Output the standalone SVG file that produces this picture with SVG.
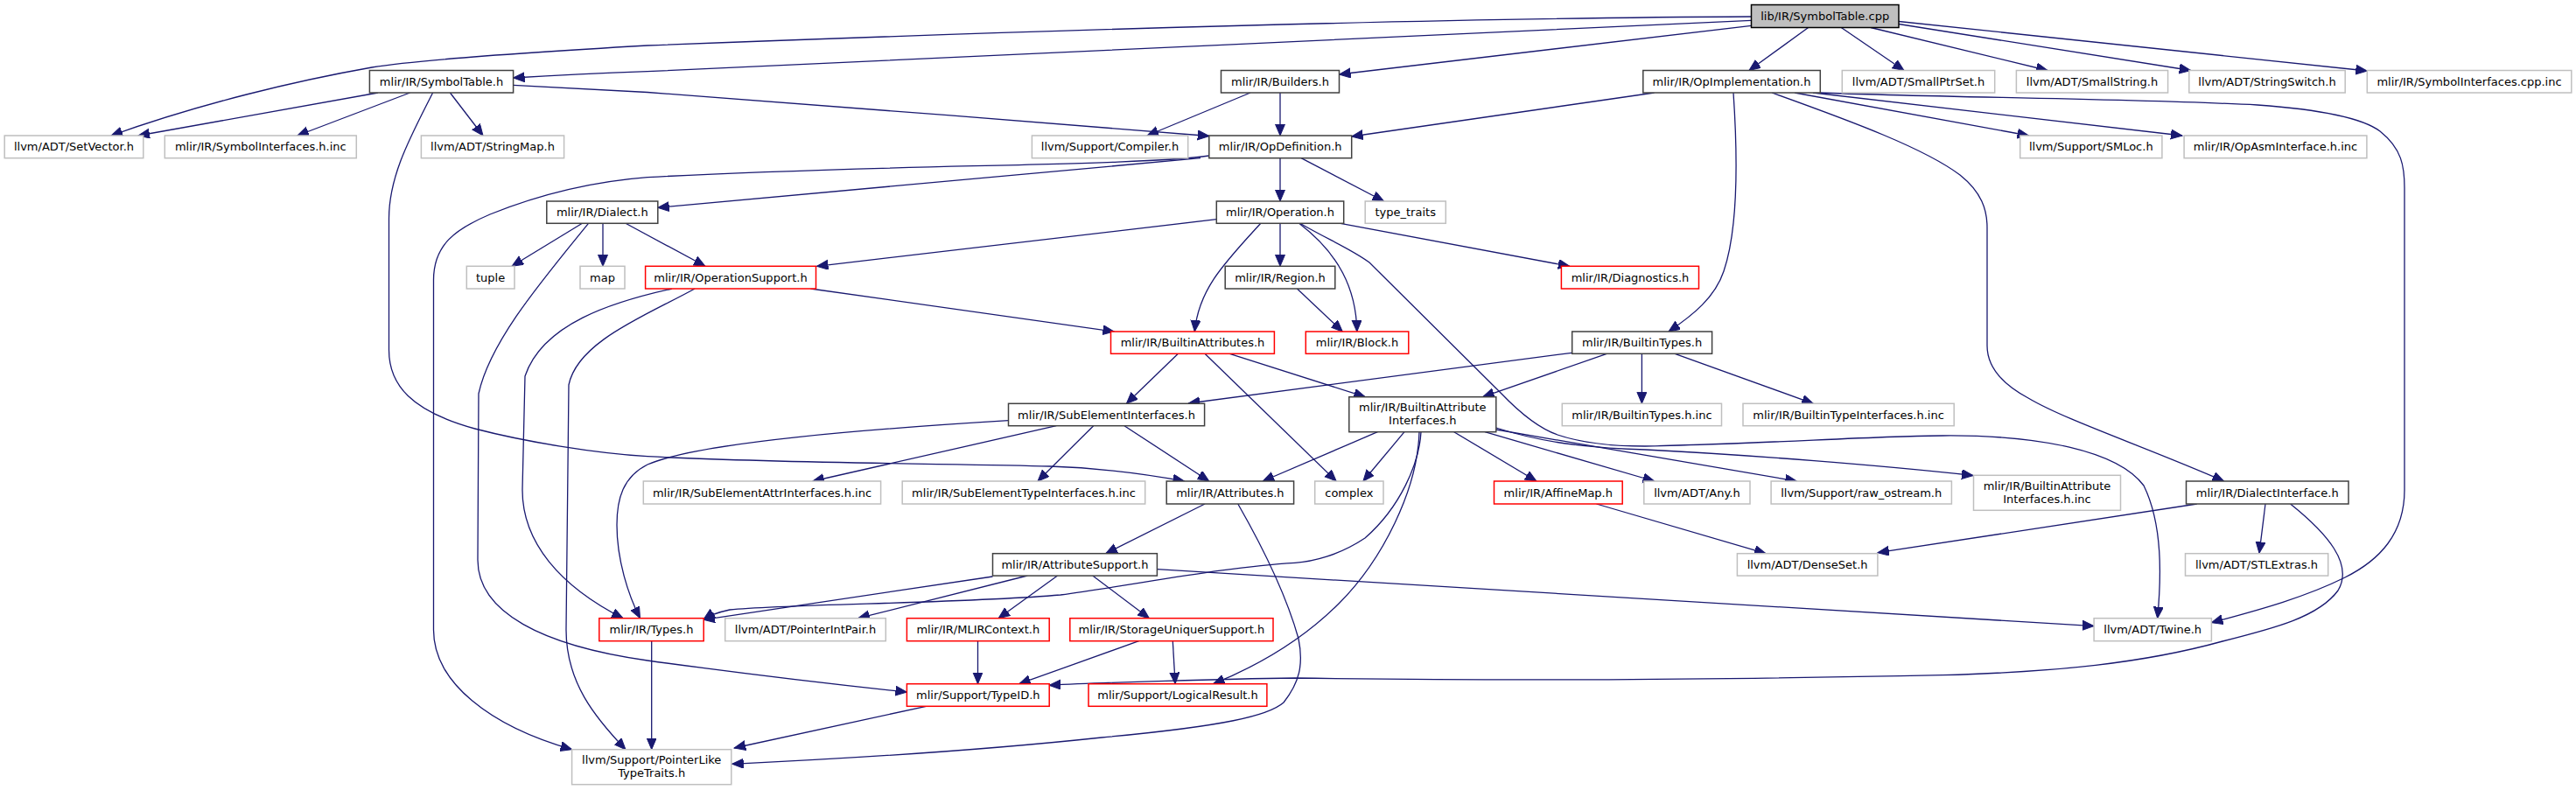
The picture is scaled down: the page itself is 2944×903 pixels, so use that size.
<svg xmlns="http://www.w3.org/2000/svg" width="2944" height="903" viewBox="0 0 2944 903">
<style>
rect{fill:#fff;stroke:#404040;stroke-width:1.5}
.g rect{stroke:#bfbfbf}
.r rect{stroke:#ff0000}
.root rect{fill:#bfbfbf;stroke:#000}
text{font-family:"DejaVu Sans","Liberation Sans",sans-serif;font-size:13px;text-anchor:middle;fill:#000}
#edges path{fill:none;stroke:#191970;stroke-width:1.3;marker-end:url(#a)}
</style>
<defs>
<marker id="a" markerUnits="userSpaceOnUse" markerWidth="14" markerHeight="12" refX="13" refY="5.5" orient="auto"><path d="M0,0L13,5.5L0,11z" fill="#191970" stroke="#191970" stroke-width="1"/></marker>
</defs>
<rect x="0" y="0" width="2944" height="903" style="fill:#fff;stroke:none"/>
<g id="edges">
<path d="M2001.5,19 C1600,21 1100,38 740,52 C600,60 480,68 425,77 C340,92 230,118 127,155"/>
<path d="M2001.5,23.3 C1700,37 1000,70 740,81.7 C680,84 630,86.5 586.6,89"/>
<path d="M2001.5,29.3 L1530.5,85"/>
<path d="M2066.6,31.5 L1999,80.5"/>
<path d="M2104.3,31.5 L2176,80.5"/>
<path d="M2138,31.5 L2340,80.5"/>
<path d="M2170,27.5 L2503.7,80.5"/>
<path d="M2170,24.5 L2705.3,81"/>
<path d="M432,106 L158,155"/>
<path d="M468.6,106 L339.8,155"/>
<path d="M514.4,106 L552,155"/>
<path d="M586.6,97.3 L740,105.5 C900,118 1200,140 1381.8,155.5"/>
<path d="M494.6,106 C470,155 444.5,200 444.5,250 L444.5,400 C444.5,440 470,470 542.7,490 C600,505 680,518 740,521.7 C900,530 1100,530 1200,533 C1260,535 1310,542 1353.5,550"/>
<path d="M1429,106 L1311,155"/>
<path d="M1463,106 L1463,155"/>
<path d="M1890.6,106 L1544.7,156"/>
<path d="M1981,106 C1986,180 1987,260 1970,310 C1960,340 1935,360 1907,379"/>
<path d="M2025,106 C2120,140 2200,170 2240,200 C2265,220 2271,240 2271,260 L2271,395 C2271,420 2290,440 2318,455 C2360,480 2450,510 2541.6,550"/>
<path d="M2051,106 L2318.6,155"/>
<path d="M2072,106 L2494,155"/>
<path d="M2080.3,106 C2200,111 2450,113 2580,120 C2650,125 2700,135 2720,150 C2745,170 2748,190 2748,215 L2748,560 C2748,610 2720,640 2680,660 C2630,685 2570,700 2527.4,711.7"/>
<path d="M1372,180.7 L751.8,237.3"/>
<path d="M1381.8,178 C1300,190 1000,188 740,202.7 C670,208 610,225 560,245 C520,262 495.5,280 495.5,320 L495.5,720 C495.5,780 560,830 653.6,856.7"/>
<path d="M1463,180.7 L1463,230"/>
<path d="M1487,180.7 L1581.5,230"/>
<path d="M665.4,255.3 L585,304.3"/>
<path d="M689,255.3 L689,304.3"/>
<path d="M715,255.3 L806,304.3"/>
<path d="M672.5,255.3 C620,320 560,390 547,450 L546,640 C546,700 620,738 740,755 C850,770 950,782 1036.4,791"/>
<path d="M926.4,330 L1273.3,379"/>
<path d="M768,330 C700,345 620,370 600,430 L597,560 C597,620 640,670 712,706.7"/>
<path d="M794,330 C740,360 660,390 650,440 L647,720 C647,780 680,820 715,856.7"/>
<path d="M1390.3,250.7 L933.5,304.3"/>
<path d="M1440.8,255.3 C1400,300 1370,330 1365.3,379"/>
<path d="M1463,255.3 L1463,304.3"/>
<path d="M1484.7,255.3 C1530,290 1550,330 1550.8,379"/>
<path d="M1532,255.3 L1793.8,304.3"/>
<path d="M1487,256 C1520,275 1545,285 1565,300 L1716,450 C1740,475 1760,490 1780,497 C1810,507 1850,510 1880,510 C2000,508 2150,498 2220,498 C2330,497 2420,515 2450,555 C2472,600 2470,660 2465.7,706.7"/>
<path d="M1482.4,330 L1534.3,379"/>
<path d="M1346.4,404.3 L1287.4,461.3"/>
<path d="M1377,404.3 L1527.2,550"/>
<path d="M1405.4,404.3 L1560.2,453.7"/>
<path d="M1796.2,403.3 L1358.2,461"/>
<path d="M1836.3,404.3 L1694.7,453.7"/>
<path d="M1876.4,404.3 L1876.4,461.3"/>
<path d="M1914.2,404.3 L2072.3,461.3"/>
<path d="M1207.2,486.7 L928.8,550"/>
<path d="M1249.7,486.7 L1186,550"/>
<path d="M1285,486.7 L1381.8,550"/>
<path d="M1152.5,480.7 C1000,490 800,505 740,531 C712,545 705,570 705,600 C705,640 718,680 731.5,706.7"/>
<path d="M1574.4,493.7 L1443.2,550"/>
<path d="M1605,493.7 L1557.9,550"/>
<path d="M1661.7,493.7 L1756,550"/>
<path d="M1697,493.7 L1890.6,550"/>
<path d="M1709.8,491 L2053.4,550"/>
<path d="M1709.8,489 C1760,505 1810,512 1881,514 C2000,520 2150,532 2255,543.5"/>
<path d="M1624,493.7 C1622,530 1600,580 1560,615 C1530,635 1500,642 1480,643.3 C1400,648 1300,668 1212,680 C1100,690 900,690 834,697 C820,700 810,704 804,708"/>
<path d="M1622,493.7 C1620,560 1580,640 1530,690 C1490,730 1440,760 1386.5,781.7"/>
<path d="M1377,576 L1263.8,632.7"/>
<path d="M1414.8,576 C1440,620 1470,680 1484,730 C1490,760 1485,780 1467,803 C1450,818 1400,830 1259,843 C1100,860 950,868 836.7,873.3"/>
<path d="M1824.5,576 L2018,632.7"/>
<path d="M1134.5,659 L804,708.3"/>
<path d="M1174.2,658 L980.7,706.7"/>
<path d="M1208.6,658 L1141.1,706.7"/>
<path d="M1248.7,658 L1313.4,706.7"/>
<path d="M1322.4,650.7 L2393.1,715.6"/>
<path d="M2510.8,576 L2145.9,631.7"/>
<path d="M2589,576 L2582,632.3"/>
<path d="M2617.6,576 C2660,610 2690,645 2672,675 C2650,705 2600,718 2540,733 C2450,758 2350,768 2220,771.7 C1900,778 1700,778 1480,775 C1400,776 1260,780 1199.2,783.3"/>
<path d="M744.7,732.7 L744.7,856.7"/>
<path d="M1117.5,732.7 L1117.5,781.7"/>
<path d="M1301.6,732.7 L1164.7,781.7"/>
<path d="M1340.3,732.7 L1343.1,781.7"/>
<path d="M1058.5,807.3 L839.1,855"/>
</g>
<g id="n_cpp" class="root"><rect x="2001.5" y="5.5" width="168.5" height="26"/><text x="2085.7" y="23">lib/IR/SymbolTable.cpp</text></g>
<g id="n_symtab"><rect x="422.4" y="80.5" width="164.2" height="25.5"/><text x="504.5" y="97.7">mlir/IR/SymbolTable.h</text></g>
<g id="n_builders"><rect x="1395.5" y="80.5" width="135" height="25.5"/><text x="1463" y="97.7">mlir/IR/Builders.h</text></g>
<g id="n_opimpl"><rect x="1877.8" y="80.5" width="202.5" height="25.5"/><text x="1979" y="97.7">mlir/IR/OpImplementation.h</text></g>
<g id="n_smallptrset" class="g"><rect x="2105.3" y="80.5" width="174.4" height="25.5"/><text x="2192.5" y="97.7">llvm/ADT/SmallPtrSet.h</text></g>
<g id="n_smallstring" class="g"><rect x="2304.4" y="80.5" width="173.2" height="25.5"/><text x="2391" y="97.7">llvm/ADT/SmallString.h</text></g>
<g id="n_stringswitch" class="g"><rect x="2501.8" y="80.5" width="178.4" height="25.5"/><text x="2591" y="97.7">llvm/ADT/StringSwitch.h</text></g>
<g id="n_symifcppinc" class="g"><rect x="2705.3" y="80.5" width="233.5" height="25.5"/><text x="2822" y="97.7">mlir/IR/SymbolInterfaces.cpp.inc</text></g>
<g id="n_setvector" class="g"><rect x="5.2" y="155" width="158.6" height="25.7"/><text x="84.5" y="172.3">llvm/ADT/SetVector.h</text></g>
<g id="n_symifhinc" class="g"><rect x="188.3" y="155" width="219" height="25.7"/><text x="297.8" y="172.3">mlir/IR/SymbolInterfaces.h.inc</text></g>
<g id="n_stringmap" class="g"><rect x="481.4" y="155" width="163.2" height="25.7"/><text x="563" y="172.3">llvm/ADT/StringMap.h</text></g>
<g id="n_compiler" class="g"><rect x="1179.4" y="155" width="178.3" height="25.7"/><text x="1268.5" y="172.3">llvm/Support/Compiler.h</text></g>
<g id="n_opdef"><rect x="1381.8" y="155" width="162.9" height="25.7"/><text x="1463.2" y="172.3">mlir/IR/OpDefinition.h</text></g>
<g id="n_smloc" class="g"><rect x="2308.7" y="155" width="162.2" height="25.7"/><text x="2389.8" y="172.3">llvm/Support/SMLoc.h</text></g>
<g id="n_opasm" class="g"><rect x="2496.1" y="155" width="208.8" height="25.7"/><text x="2600.5" y="172.3">mlir/IR/OpAsmInterface.h.inc</text></g>
<g id="n_dialect"><rect x="624.8" y="230" width="127" height="25.3"/><text x="688.3" y="247.2">mlir/IR/Dialect.h</text></g>
<g id="n_operation"><rect x="1390.3" y="230" width="145.4" height="25.3"/><text x="1463" y="247.2">mlir/IR/Operation.h</text></g>
<g id="n_typetraits" class="g"><rect x="1560.2" y="230" width="92.1" height="25.3"/><text x="1606.2" y="247.2">type_traits</text></g>
<g id="n_tuple" class="g"><rect x="533.3" y="304.3" width="54.7" height="25.7"/><text x="560.6" y="321.7">tuple</text></g>
<g id="n_map" class="g"><rect x="663" y="304.3" width="51" height="25.7"/><text x="688.5" y="321.7">map</text></g>
<g id="n_opsupport" class="r"><rect x="737.6" y="304.3" width="194.9" height="25.7"/><text x="835" y="321.7">mlir/IR/OperationSupport.h</text></g>
<g id="n_region"><rect x="1400.2" y="304.3" width="125.6" height="25.7"/><text x="1463" y="321.7">mlir/IR/Region.h</text></g>
<g id="n_diagnostics" class="r"><rect x="1784.4" y="304.3" width="157.1" height="25.7"/><text x="1863" y="321.7">mlir/IR/Diagnostics.h</text></g>
<g id="n_builtinattrs" class="r"><rect x="1269.5" y="379" width="186.9" height="25.3"/><text x="1363" y="396.2">mlir/IR/BuiltinAttributes.h</text></g>
<g id="n_block" class="r"><rect x="1492.3" y="379" width="117.5" height="25.3"/><text x="1551" y="396.2">mlir/IR/Block.h</text></g>
<g id="n_builtintypes"><rect x="1796.7" y="379" width="159.9" height="25.3"/><text x="1876.6" y="396.2">mlir/IR/BuiltinTypes.h</text></g>
<g id="n_subelemif"><rect x="1152.5" y="461.3" width="224.1" height="25.4"/><text x="1264.5" y="478.5">mlir/IR/SubElementInterfaces.h</text></g>
<g id="n_bai"><rect x="1541.8" y="453.7" width="168" height="40"/><text x="1625.8" y="470">mlir/IR/BuiltinAttribute</text><text x="1625.8" y="485">Interfaces.h</text></g>
<g id="n_builtintypesinc" class="g"><rect x="1785.3" y="461.3" width="182.2" height="25.4"/><text x="1876.4" y="478.5">mlir/IR/BuiltinTypes.h.inc</text></g>
<g id="n_btifinc" class="g"><rect x="1992" y="461.3" width="241.2" height="25.4"/><text x="2112.6" y="478.5">mlir/IR/BuiltinTypeInterfaces.h.inc</text></g>
<g id="n_seattrinc" class="g"><rect x="735.3" y="550" width="271.3" height="26"/><text x="871" y="567.5">mlir/IR/SubElementAttrInterfaces.h.inc</text></g>
<g id="n_setypeinc" class="g"><rect x="1031.2" y="550" width="277.5" height="26"/><text x="1170" y="567.5">mlir/IR/SubElementTypeInterfaces.h.inc</text></g>
<g id="n_attributes"><rect x="1333.2" y="550" width="145.4" height="26"/><text x="1405.9" y="567.5">mlir/IR/Attributes.h</text></g>
<g id="n_complex" class="g"><rect x="1502.7" y="550" width="78.3" height="26"/><text x="1541.8" y="567.5">complex</text></g>
<g id="n_affinemap" class="r"><rect x="1707.5" y="550" width="146.7" height="26"/><text x="1780.8" y="567.5">mlir/IR/AffineMap.h</text></g>
<g id="n_any" class="g"><rect x="1878.8" y="550" width="121.2" height="26"/><text x="1939.4" y="567.5">llvm/ADT/Any.h</text></g>
<g id="n_rawostream" class="g"><rect x="2024.1" y="550" width="206.3" height="26"/><text x="2127.2" y="567.5">llvm/Support/raw_ostream.h</text></g>
<g id="n_baiinc" class="g"><rect x="2255.5" y="543.3" width="168" height="40"/><text x="2339.5" y="559.6">mlir/IR/BuiltinAttribute</text><text x="2339.5" y="574.6">Interfaces.h.inc</text></g>
<g id="n_dialectif"><rect x="2498.5" y="550" width="185.5" height="26"/><text x="2591.2" y="567.5">mlir/IR/DialectInterface.h</text></g>
<g id="n_attrsupport"><rect x="1134.5" y="632.7" width="187.9" height="25.4"/><text x="1228.4" y="649.9">mlir/IR/AttributeSupport.h</text></g>
<g id="n_denseset" class="g"><rect x="1985.4" y="632.7" width="160.5" height="25.4"/><text x="2065.6" y="649.9">llvm/ADT/DenseSet.h</text></g>
<g id="n_stlextras" class="g"><rect x="2497.5" y="632.7" width="163.2" height="25.4"/><text x="2579" y="649.9">llvm/ADT/STLExtras.h</text></g>
<g id="n_types" class="r"><rect x="684.8" y="706.7" width="119.4" height="26"/><text x="744.5" y="724.2">mlir/IR/Types.h</text></g>
<g id="n_pointerintpair" class="g"><rect x="828.7" y="706.7" width="183.6" height="26"/><text x="920.5" y="724.2">llvm/ADT/PointerIntPair.h</text></g>
<g id="n_mlircontext" class="r"><rect x="1036.4" y="706.7" width="162.8" height="26"/><text x="1117.8" y="724.2">mlir/IR/MLIRContext.h</text></g>
<g id="n_storageuniquer" class="r"><rect x="1222.8" y="706.7" width="232.2" height="26"/><text x="1338.9" y="724.2">mlir/IR/StorageUniquerSupport.h</text></g>
<g id="n_twine" class="g"><rect x="2393.1" y="706.7" width="134.3" height="26"/><text x="2460.2" y="724.2">llvm/ADT/Twine.h</text></g>
<g id="n_typeid" class="r"><rect x="1036.4" y="781.7" width="162.8" height="25.6"/><text x="1117.8" y="799">mlir/Support/TypeID.h</text></g>
<g id="n_logicalresult" class="r"><rect x="1244" y="781.7" width="203.9" height="25.6"/><text x="1346" y="799">mlir/Support/LogicalResult.h</text></g>
<g id="n_pointerlike" class="g"><rect x="653.6" y="856.7" width="182.2" height="40"/><text x="744.7" y="873">llvm/Support/PointerLike</text><text x="744.7" y="888">TypeTraits.h</text></g>
</svg>
